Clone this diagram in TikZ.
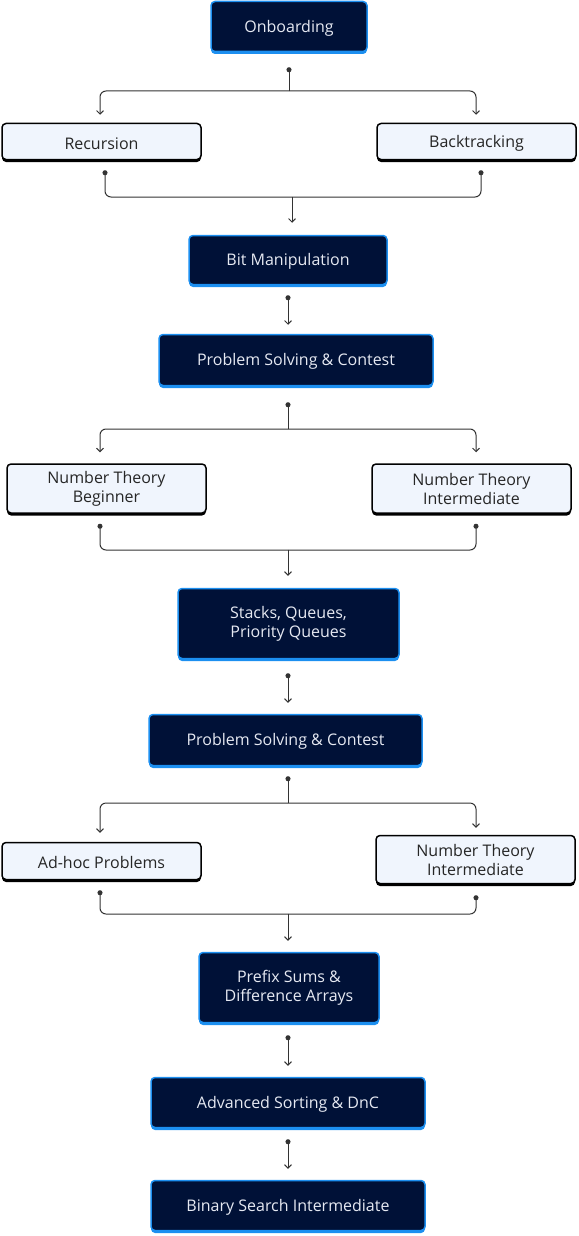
\documentclass[tikz,border=0pt]{standalone}
\usepackage{fontspec}
\setmainfont{Open Sans}
\usetikzlibrary{arrows.meta,shadows}
\definecolor{navy}{HTML}{001137}
\definecolor{bblue}{HTML}{1C8FF0}
\definecolor{lightfill}{HTML}{F0F5FD}
\definecolor{linec}{HTML}{333333}
\definecolor{txtl}{HTML}{E6E9F2}
\tikzset{
  boxbase/.style={line width=1.5pt, rounded corners=4pt,
    font=\fontsize{16}{19}\selectfont, align=center, inner sep=0pt,
    execute at begin node={\rule{0pt}{15.5pt}}},
  darkbox/.style={boxbase, draw=bblue, fill=navy, text=txtl,
    drop shadow={shadow xshift=0pt, shadow yshift=-2.5pt, opacity=1, fill=bblue}},
  lightbox/.style={boxbase, draw=black, fill=lightfill, text=black!85,
    drop shadow={shadow xshift=0pt, shadow yshift=-2.5pt, opacity=1, fill=black}},
  conn/.style={draw=linec, line width=1pt, rounded corners=6pt},
  startdot/.style={{Circle[length=5pt,width=5pt]}-},
  endarrow/.style={-{Straight Barb[length=3.5pt,width=7pt,line width=0.9pt]}},
  bothtips/.style={{Circle[length=5pt,width=5pt]}-{Straight Barb[length=3.5pt,width=7pt,line width=0.9pt]}},
}
\begin{document}
\begin{tikzpicture}[x=1pt,y=-1pt]
\useasboundingbox (0,0) rectangle (578,1236);
% nodes
\node[darkbox, minimum width=156pt, minimum height=50pt] (on) at (289,26.5) {Onboarding};
\node[lightbox, minimum width=199pt, minimum height=36pt] (rec) at (101.5,141.5) {Recursion};
\node[lightbox, minimum width=199pt, minimum height=36pt] (bt) at (476.5,141.5) {Backtracking};
\node[darkbox, minimum width=198pt, minimum height=49pt] (bit) at (288,260) {Bit Manipulation};
\node[darkbox, minimum width=274pt, minimum height=51pt] (ps1) at (296,360) {Problem Solving \& Contest};
\node[lightbox, minimum width=199pt, minimum height=49pt] (ntb) at (106.5,488.5) {Number Theory\\Beginner};
\node[lightbox, minimum width=199pt, minimum height=49pt] (nti1) at (471.5,488.5) {Number Theory\\Intermediate};
\node[darkbox, minimum width=221pt, minimum height=70pt] (stk) at (288.5,623.5) {Stacks, Queues,\\Priority Queues};
\node[darkbox, minimum width=273pt, minimum height=51pt] (ps2) at (285.5,740) {Problem Solving \& Contest};
\node[lightbox, minimum width=199pt, minimum height=37pt] (adh) at (101.5,861) {Ad-hoc Problems};
\node[lightbox, minimum width=199pt, minimum height=48pt] (nti2) at (475.5,859.5) {Number Theory\\Intermediate};
\node[darkbox, minimum width=180pt, minimum height=70pt] (pre) at (289,987.5) {Prefix Sums \&\\Difference Arrays};
\node[darkbox, minimum width=274pt, minimum height=50pt] (adv) at (288,1102.5) {Advanced Sorting \& DnC};
\node[darkbox, minimum width=274pt, minimum height=50pt] (bin) at (288,1205.5) {Binary Search Intermediate};
% junctions
\coordinate (j1) at (289,91);
\coordinate (j2) at (292,197);
\coordinate (j3) at (288,429);
\coordinate (j4) at (288,550);
\coordinate (j5) at (288,803);
\coordinate (j6) at (288,914);
% Onboarding -> Recursion / Backtracking
\draw[conn,startdot] ([yshift=-15pt]on.south) -- (j1);
\draw[conn,endarrow] (j1) -| ([xshift=-1.5pt,yshift=8pt]rec.north);
\draw[conn,endarrow] (j1) -| ([xshift=-0.5pt,yshift=8pt]bt.north);
% Recursion / Backtracking -> Bit
\draw[conn,startdot] ([xshift=3.5pt,yshift=-10pt]rec.south) |- (j2);
\draw[conn,startdot] ([xshift=4.5pt,yshift=-10pt]bt.south) |- (j2);
\draw[conn,endarrow] (j2) -- ([xshift=4pt,yshift=12pt]bit.north);
% Bit -> PS1
\draw[conn,bothtips] ([yshift=-10pt]bit.south) -- ([xshift=-8pt,yshift=9pt]ps1.north);
% PS1 -> NT
\draw[conn,startdot] ([xshift=-8pt,yshift=-16pt]ps1.south) -- (j3);
\draw[conn,endarrow] (j3) -| ([xshift=-6.5pt,yshift=11pt]ntb.north);
\draw[conn,endarrow] (j3) -| ([xshift=4.5pt,yshift=11pt]nti1.north);
% NT -> Stacks
\draw[conn,startdot] ([xshift=-6.5pt,yshift=-10pt]ntb.south) |- (j4);
\draw[conn,startdot] ([xshift=4.5pt,yshift=-10pt]nti1.south) |- (j4);
\draw[conn,endarrow] (j4) -- ([xshift=-0.5pt,yshift=12pt]stk.north);
% Stacks -> PS2
\draw[conn,bothtips] ([xshift=-0.5pt,yshift=-14pt]stk.south) -- ([xshift=2.5pt,yshift=11pt]ps2.north);
% PS2 -> Adhoc / NTI2
\draw[conn,startdot] ([xshift=2.5pt,yshift=-10pt]ps2.south) -- (j5);
\draw[conn,endarrow] (j5) -| ([xshift=-1.5pt,yshift=9pt]adh.north);
\draw[conn,endarrow] (j5) -| ([xshift=0.5pt,yshift=7pt]nti2.north);
% Adhoc / NTI2 -> Prefix
\draw[conn,startdot] ([xshift=-1.5pt,yshift=-10pt]adh.south) |- (j6);
\draw[conn,startdot] ([xshift=0.5pt,yshift=-11pt]nti2.south) |- (j6);
\draw[conn,endarrow] (j6) -- ([xshift=-1pt,yshift=11pt]pre.north);
% Prefix -> Adv
\draw[conn,bothtips] ([xshift=-1pt,yshift=-12pt]pre.south) -- ([yshift=11pt]adv.north);
% Adv -> Bin
\draw[conn,bothtips] ([yshift=-11pt]adv.south) -- ([yshift=11pt]bin.north);
\end{tikzpicture}
\end{document}
